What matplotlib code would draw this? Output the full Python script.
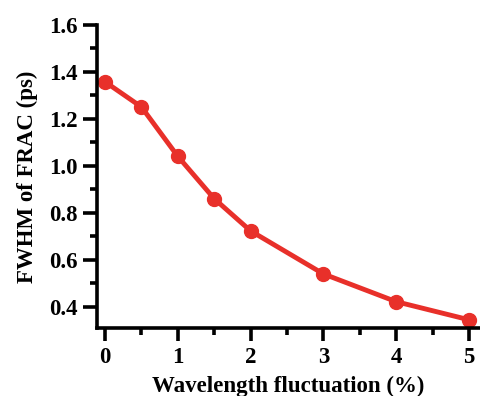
import numpy as np
from matplotlib import pyplot as plt
from matplotlib.ticker import MultipleLocator

plt.rcParams['font.family'] = ['Liberation Serif', 'DejaVu Serif']
plt.rcParams['font.weight'] = 'bold'

fluct = [0, 0.5, 1, 1.5, 2, 3, 4, 5]
fwhm = [1.357, 1.25, 1.04, 0.86, 0.723, 0.54, 0.422, 0.345]

fig = plt.figure(figsize=(4.81, 3.96), dpi=100)
ax = fig.add_axes([0.2017, 0.1717, 0.796, 0.766])

ax.plot(fluct, fwhm, color='#e8302a', lw=3.5, marker='o', ms=10, mec='#e8302a', clip_on=False)

ax.set_xlim(-0.11, 5.15)
ax.set_ylim(0.31, 1.6)
ax.xaxis.set_major_locator(MultipleLocator(1))
ax.xaxis.set_minor_locator(MultipleLocator(0.5))
ax.yaxis.set_major_locator(MultipleLocator(0.2))
ax.yaxis.set_minor_locator(MultipleLocator(0.1))
ax.set_yticks(np.arange(0.4, 1.61, 0.2))

for s in ['top', 'right']:
    ax.spines[s].set_visible(False)
for s in ['left', 'bottom']:
    ax.spines[s].set_linewidth(2.6)

ax.tick_params(which='major', direction='out', length=9, width=2.6, labelsize=16.5)
ax.tick_params(axis='y', which='major', length=10, pad=4)
ax.tick_params(axis='x', which='major', pad=5)
ax.tick_params(which='minor', direction='out', length=5, width=2.6)
for lab in ax.get_xticklabels() + ax.get_yticklabels():
    lab.set_fontweight('bold')

ax.set_xlabel('Wavelength fluctuation (%)', fontsize=16.5, fontweight='bold', labelpad=5)
ax.set_ylabel('FWHM of FRAC (ps)', fontsize=16.5, fontweight='bold', labelpad=8)

fig.savefig('out.png', dpi=100)
